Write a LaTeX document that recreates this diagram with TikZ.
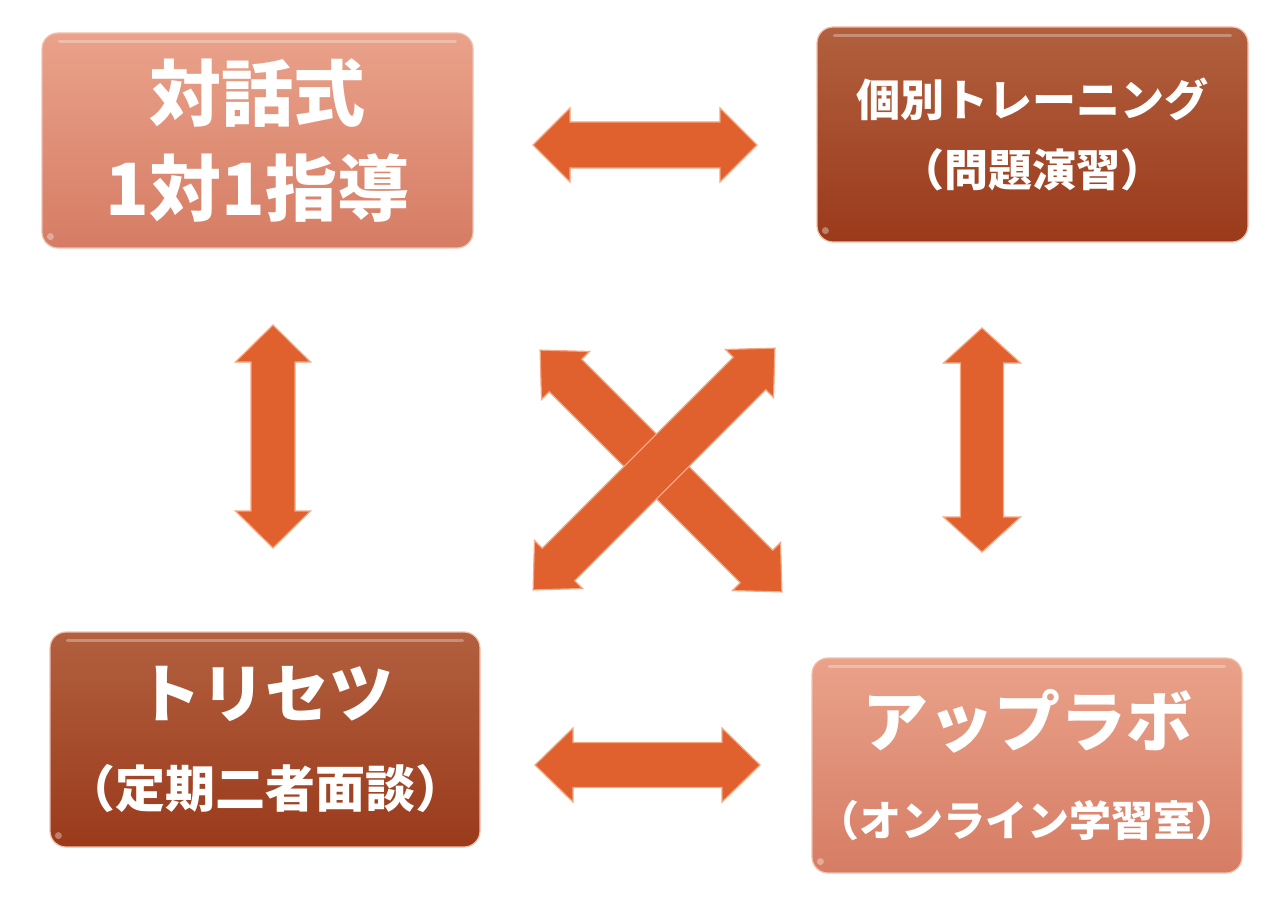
\documentclass[tikz,border=0pt]{standalone}
\usepackage{fontspec}
\newfontfamily\jp{Noto Sans CJK JP}
\usetikzlibrary{shadings}
\definecolor{lighttop}{HTML}{EAA28A}
\definecolor{lightbot}{HTML}{D67C64}
\definecolor{darktop}{HTML}{B2603F}
\definecolor{darkbot}{HTML}{9A3A1B}
\definecolor{arrowfill}{HTML}{E0612D}
\definecolor{arrowedge}{HTML}{F5A882}
\definecolor{boxedge}{HTML}{F2C0AC}
\tikzset{
  box/.style={rounded corners=16pt, draw=boxedge, line width=1.2pt, inner sep=0pt,
    minimum width=430pt, minimum height=215pt, align=center, text=white},
  lightbox/.style={box, top color=lighttop, bottom color=lightbot},
  darkbox/.style={box, top color=darktop, bottom color=darkbot},
  blockarrow/.style={fill=arrowfill, draw=arrowedge, line width=1.2pt, line join=miter},
  glint/.style={white, opacity=0.3, line width=3pt, line cap=round},
}
% #1 centre, #2 angle, #3 half length, #4 head length, #5 head half width, #6 shaft half width
\newcommand\dblarrow[6]{%
  \begin{scope}[shift={#1}, rotate=#2]
    \draw[blockarrow] (-#3,0) -- ({-#3+#4},#5) -- ({-#3+#4},#6) -- ({#3-#4},#6) -- ({#3-#4},#5)
      -- (#3,0) -- ({#3-#4},-#5) -- ({#3-#4},-#6) -- ({-#3+#4},-#6) -- ({-#3+#4},-#5) -- cycle;
  \end{scope}}
\begin{document}
\begin{tikzpicture}[x=1pt, y=-1pt]
  \useasboundingbox (0,0) rectangle (1280,912);

  % boxes
  \node[lightbox, minimum width=431pt, font={\jp\bfseries\fontsize{72}{95}\selectfont}] (tl) at (257.5,140.5)
    {対話式\\ 1対1指導};
  \node[darkbox, minimum width=431pt, font={\jp\bfseries\fontsize{44}{70}\selectfont}] (tr) at (1032.5,134.5)
    {個別トレーニング\\ （問題演習）};
  \node[darkbox, font={\jp\bfseries\fontsize{64}{90}\selectfont}] (bl) at (265,739.5)
    {トリセツ\\ {\fontsize{50}{90}\selectfont （定期二者面談）}};
  \node[lightbox, font={\jp\bfseries\fontsize{66}{90}\selectfont}] (br) at (1027,765.5)
    {アップラボ\\ {\fontsize{42}{90}\selectfont （オンライン学習室）}};

  % glints
  \foreach \b in {tl,tr,bl,br}{
    \draw[glint] ([xshift=18pt,yshift=-9pt]\b.north west) -- ([xshift=-18pt,yshift=-9pt]\b.north east);
    \fill[white, opacity=0.35] ([xshift=9pt,yshift=12pt]\b.south west) circle (3.5pt);
  }

  % arrows
  \coordinate (atop) at (645,145);
  \coordinate (abot) at (647.5,765);
  \coordinate (aleft) at (273,436.5);
  \coordinate (aright) at (982,440);
  \coordinate (xone) at (661,471);
  \coordinate (xtwo) at (654,469);
  \dblarrow{(atop)}{0}{112}{37}{37}{23}
  \dblarrow{(abot)}{0}{112.5}{38}{37}{22.5}
  \dblarrow{(aleft)}{90}{111.5}{37}{37.5}{22}
  \dblarrow{(aright)}{90}{112}{35}{38.5}{21.5}
  \dblarrow{(xone)}{-45}{171}{36}{34}{23}
  \dblarrow{(xtwo)}{45}{171}{36}{34}{23}
\end{tikzpicture}
\end{document}
